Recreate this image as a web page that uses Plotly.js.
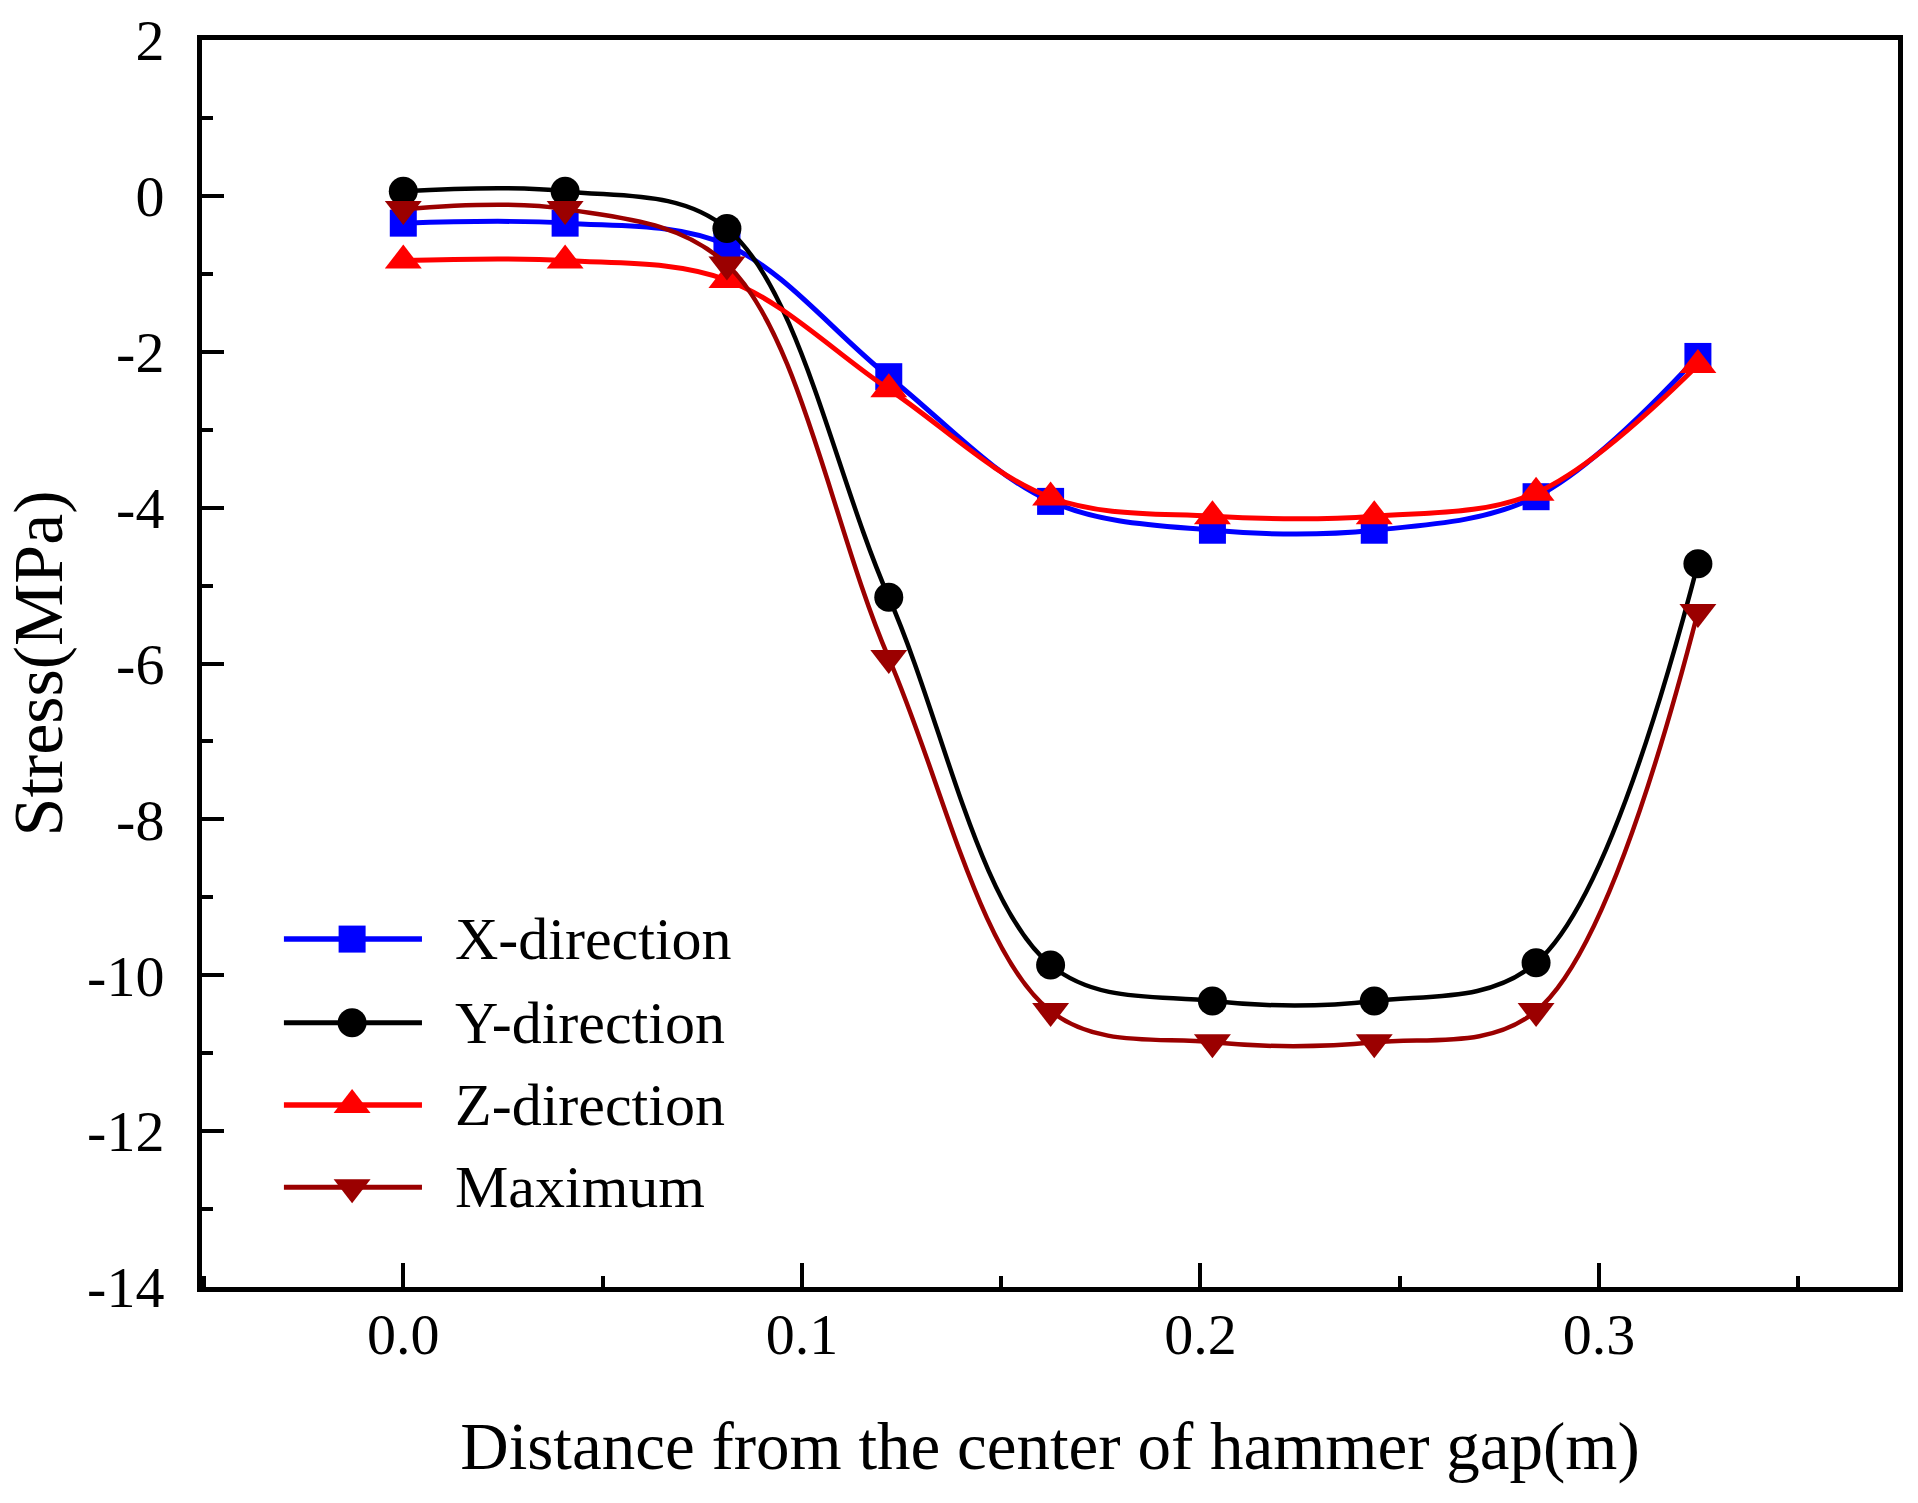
<!DOCTYPE html>
<html>
<head>
<meta charset="utf-8">
<script src="https://cdn.plot.ly/plotly-3.0.1.min.js"></script>
<style>
  html, body { margin: 0; padding: 0; background: #fff; }
  #chart { width: 1918px; height: 1503px; }
</style>
</head>
<body>
<div id="chart"></div>
<script>
// ---- data ----
const distance = [0, 0.0406, 0.0812, 0.1218, 0.1624, 0.2030, 0.2436, 0.2842, 0.3248];
const xDirection = [-0.35, -0.35, -0.63, -2.32, -3.92, -4.29, -4.29, -3.86, -2.06];
const yDirection = [0.06, 0.06, -0.42, -5.15, -9.87, -10.33, -10.33, -9.84, -4.72];
const zDirection = [-0.83, -0.83, -1.08, -2.48, -3.87, -4.11, -4.11, -3.81, -2.17];
const maximum = [-0.17, -0.17, -0.88, -5.93, -10.46, -10.86, -10.86, -10.46, -5.34];

const seriesNames = ['X-direction', 'Y-direction', 'Z-direction', 'Maximum'];
const xTickVals = [0, 0.1, 0.2, 0.3];
const xTickLabels = ['0.0', '0.1', '0.2', '0.3'];
const yTickVals = [2, 0, -2, -4, -6, -8, -10, -12, -14];
const yTickLabels = ['2', '0', '-2', '-4', '-6', '-8', '-10', '-12', '-14'];

// ---- styles ----
const FONT = 'Liberation Serif, Times New Roman, serif';
const styles = [
  {color: '#0000FF', width: 5, symbol: 'square', size: 27},
  {color: '#000000', width: 4.5, symbol: 'circle', size: 29},
  {color: '#FF0000', width: 5, symbol: 'triangle-up', size: 32},
  {color: '#9B0000', width: 4.5, symbol: 'triangle-down', size: 32}
];
const seriesValues = [xDirection, yDirection, zDirection, maximum];

const traces = seriesValues.map((vals, i) => ({
  type: 'scatter',
  mode: 'lines+markers',
  x: distance,
  y: vals,
  name: seriesNames[i],
  line: {color: styles[i].color, width: styles[i].width, shape: 'spline', smoothing: 1},
  marker: {color: styles[i].color, symbol: styles[i].symbol, size: styles[i].size, line: {width: 0}},
  showlegend: false,
  cliponaxis: false
}));

// ---- custom legend (paper-space overlay axes) ----
const legendLayout = {x0: 0.0483, x1: 0.1297, xm: 0.0885, xText: 0.148, rows: [0.279, 0.212, 0.146, 0.080]};
const annotations = [];
seriesNames.forEach((name, i) => {
  const yy = legendLayout.rows[i];
  traces.push({
    type: 'scatter', mode: 'lines', xaxis: 'x2', yaxis: 'y2',
    x: [legendLayout.x0, legendLayout.x1], y: [yy, yy],
    line: {color: styles[i].color, width: styles[i].width + 0.5},
    showlegend: false, hoverinfo: 'skip'
  });
  traces.push({
    type: 'scatter', mode: 'markers', xaxis: 'x2', yaxis: 'y2',
    x: [legendLayout.xm], y: [yy],
    marker: {color: styles[i].color, symbol: styles[i].symbol, size: styles[i].size, line: {width: 0}},
    showlegend: false, hoverinfo: 'skip'
  });
  annotations.push({
    xref: 'paper', yref: 'paper', x: legendLayout.xText, y: yy,
    xanchor: 'left', yanchor: 'middle', showarrow: false,
    text: name, font: {family: FONT, size: 60, color: '#000'}
  });
});

const layout = {
  width: 1918, height: 1503,
  margin: {l: 202, r: 20, t: 40, b: 216},
  paper_bgcolor: '#fff', plot_bgcolor: '#fff',
  font: {family: FONT, color: '#000'},
  showlegend: false,
  xaxis: {
    range: [-0.0505, 0.375],
    tickvals: xTickVals, ticktext: xTickLabels,
    ticks: 'inside', ticklen: 24, tickwidth: 4, tickcolor: '#000',
    minor: {dtick: 0.05, tick0: 0.05, ticks: 'inside', ticklen: 11, tickwidth: 4, tickcolor: '#000'},
    showline: true, linewidth: 5, linecolor: '#000', mirror: true,
    showgrid: false, zeroline: false,
    tickfont: {family: FONT, size: 58, color: '#000'},
    ticklabelstandoff: -8,
    title: {text: 'Distance from the center of hammer gap(m)', font: {family: FONT, size: 67, color: '#000'}, standoff: 58}
  },
  yaxis: {
    range: [-14, 2],
    tickvals: yTickVals, ticktext: yTickLabels,
    ticks: 'inside', ticklen: 22, tickwidth: 4, tickcolor: '#000',
    minor: {dtick: 2, tick0: 1, ticks: 'inside', ticklen: 11, tickwidth: 4, tickcolor: '#000'},
    showline: true, linewidth: 5, linecolor: '#000', mirror: true,
    showgrid: false, zeroline: false,
    tickfont: {family: FONT, size: 58, color: '#000'},
    ticklabelstandoff: 21,
    title: {text: 'Stress(MPa)', font: {family: FONT, size: 70, color: '#000'}, standoff: 12}
  },
  xaxis2: {overlaying: 'x', range: [0, 1], visible: false, fixedrange: true},
  yaxis2: {overlaying: 'y', range: [0, 1], visible: false, fixedrange: true},
  annotations: annotations
};

Plotly.newPlot('chart', traces, layout, {displayModeBar: false, staticPlot: true});
</script>
</body>
</html>
